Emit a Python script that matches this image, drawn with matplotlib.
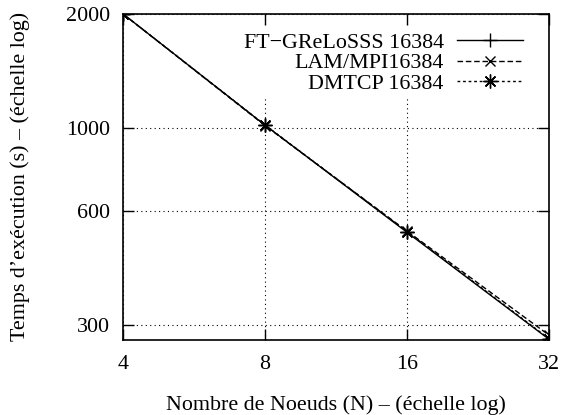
import numpy as np
import matplotlib
matplotlib.use('Agg')
import matplotlib.pyplot as plt
from matplotlib.ticker import FixedLocator, NullLocator, FixedFormatter

plt.rcParams['font.family'] = ['Liberation Serif', 'DejaVu Serif']
plt.rcParams['font.size'] = 15.8

# noeuds
noeuds = [4, 8, 16, 32]
# temps d'execution (s)
ft_greloss = [2000, 1015, 528, 275]
lam_mpi = [2000, 1012, 532, 282]
dmtcp = [2000, 1016, 530, 276]

xticks = [4, 8, 16, 32]
yticks = [300, 600, 1000, 2000]

fig = plt.figure(figsize=(5.66, 4.15), dpi=100)
ax = fig.add_axes([0.2173, 0.181, 0.7527, 0.7855])

ax.plot(noeuds, ft_greloss, color='black', lw=1, ls='-', marker='+', ms=10,
        mew=1, label='FT\u2212GReLoSSS 16384')
ax.plot(noeuds, lam_mpi, color='black', lw=1, ls=(0, (4, 2)), marker='x', ms=7,
        mew=1, label='LAM/MPI16384')
ax.plot(noeuds, dmtcp, color='black', lw=1, ls=(0, (2, 2)), marker=(8, 2, 0), ms=10,
        mew=1, label='DMTCP 16384')

ax.set_xscale('log')
ax.set_yscale('log')
ax.set_xlim(4, 32)
ax.set_ylim(274, 2000)

ax.xaxis.set_major_locator(FixedLocator(xticks))
ax.xaxis.set_major_formatter(FixedFormatter([str(v) for v in xticks]))
ax.xaxis.set_minor_locator(NullLocator())
ax.yaxis.set_major_locator(FixedLocator(yticks))
ax.yaxis.set_major_formatter(FixedFormatter([str(v) for v in yticks]))
ax.yaxis.set_minor_locator(NullLocator())

ax.grid(True, which='major', color='black', ls=(0, (1, 3)), lw=0.8)
ax.tick_params(direction='in', length=8, width=1, top=True, right=True,
               labelsize=15.8)
ax.tick_params(axis='x', pad=11)
ax.tick_params(axis='y', pad=9.5)
for s in ax.spines.values():
    s.set_linewidth(1.2)

ax.set_xlabel('Nombre de Noeuds (N) \u2013 (\u00e9chelle log)', labelpad=15)
ax.set_ylabel('Temps d\u2019ex\u00e9cution (s) \u2013 (\u00e9chelle log)')
ax.yaxis.set_label_coords(-0.218, 0.5)

# la legende cache la grille (comme gnuplot)
leg = ax.legend(loc='upper right', bbox_to_anchor=(0.99, 1.01),
                markerfirst=False, frameon=True, fancybox=False,
                facecolor='white', edgecolor='none', framealpha=1,
                handlelength=3.0, handletextpad=0.6, labelspacing=0.0,
                borderpad=0.2, borderaxespad=0.8, fontsize=15.8)

fig.savefig('out.png', dpi=100)
